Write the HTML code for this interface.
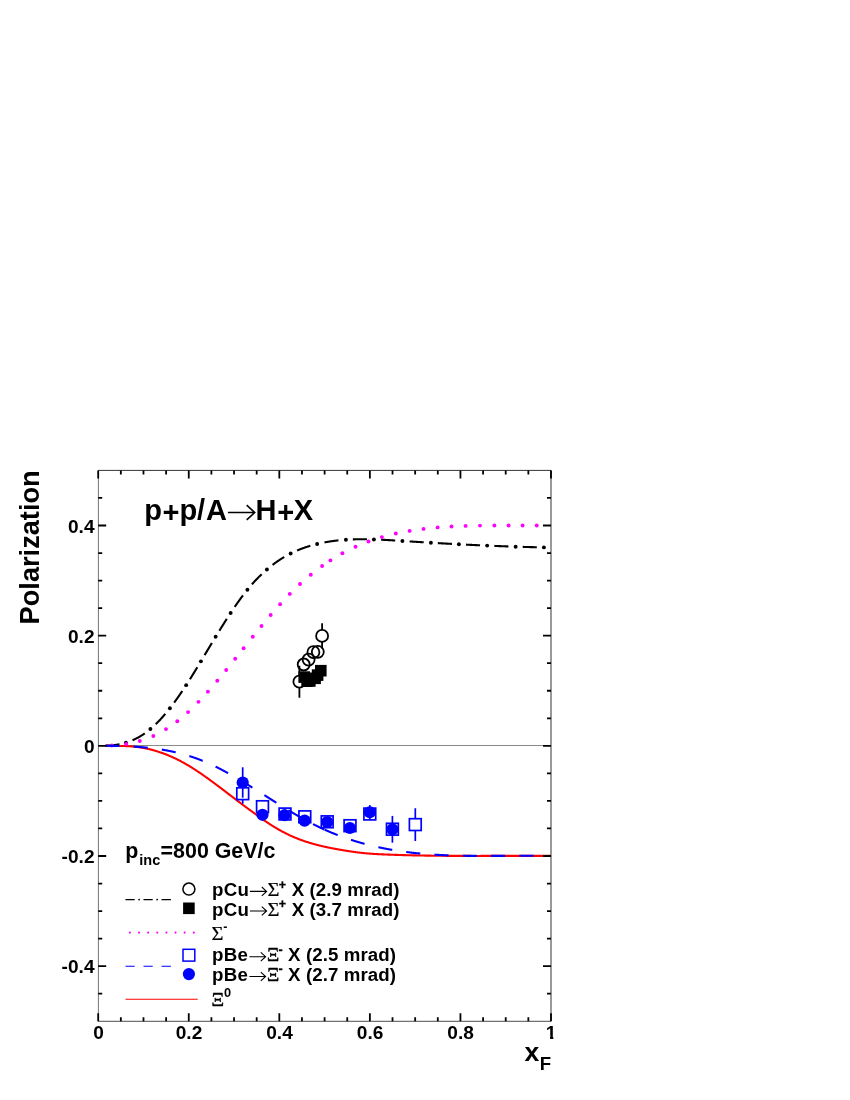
<!DOCTYPE html>
<html lang="en"><head><meta charset="utf-8"><title>Polarization</title>
<style>html,body{margin:0;padding:0;background:#fff}svg{display:block;will-change:transform}</style></head>
<body><svg width="850" height="1100" viewBox="0 0 850 1100">
<defs><clipPath id="c1"><path d="M545,1020H553.3V1045H550.1V1035.5H545Z"/></clipPath></defs>
<rect x="0" y="0" width="850" height="1100" fill="#fff"/>
<line x1="98.2" y1="745.5" x2="551.0" y2="745.5" stroke="#8a8a8a" stroke-width="1"/>
<g fill="none" stroke="#000" stroke-width="2.1">
<path d="M105.40,745.68 L105.65,745.68 L105.90,745.67 L106.15,745.67 L106.40,745.66 L106.65,745.66 L106.90,745.65 L107.15,745.64 L107.40,745.63 L107.65,745.62 L107.90,745.61 L108.15,745.60 L108.40,745.59 L108.65,745.58 L108.90,745.56 L109.15,745.55 L109.40,745.54 L109.65,745.52 L109.90,745.50 L110.15,745.49 L110.40,745.47 L110.65,745.45 L110.90,745.43 L111.15,745.41 L111.40,745.39 L111.65,745.37 L111.90,745.35 L112.15,745.32 L112.40,745.30 L112.65,745.27 L112.90,745.25 L113.15,745.22 L113.40,745.19 L113.65,745.17 L113.90,745.14 L114.15,745.11 L114.40,745.08 L114.65,745.04 L114.90,745.01 L115.15,744.98 L115.40,744.94 L115.65,744.91 L115.90,744.87 L116.15,744.84 L116.40,744.80 L116.65,744.76 L116.90,744.72 L117.15,744.68 L117.40,744.64 L117.65,744.59 L117.90,744.55 L118.15,744.51 L118.40,744.46 L118.65,744.42 L118.90,744.37 L119.15,744.32 L119.40,744.27 L119.41,744.27"/>
<path d="M132.52,740.21 L132.65,740.16 L132.90,740.05 L133.15,739.94 L133.40,739.83 L133.65,739.71 L133.90,739.60 L134.15,739.48 L134.40,739.37 L134.65,739.25 L134.90,739.13 L135.15,739.01 L135.40,738.89 L135.65,738.77 L135.90,738.64 L136.15,738.52 L136.40,738.39 L136.65,738.26 L136.90,738.13 L137.15,738.00 L137.40,737.87 L137.65,737.74 L137.90,737.60 L138.15,737.47 L138.40,737.33 L138.65,737.19 L138.90,737.05 L139.15,736.91 L139.40,736.77 L139.65,736.62 L139.90,736.48 L140.15,736.33 L140.40,736.18 L140.65,736.03 L140.90,735.88 L141.15,735.73 L141.40,735.57 L141.65,735.42 L141.90,735.26 L142.15,735.10 L142.40,734.94 L142.65,734.78 L142.90,734.62 L143.15,734.45 L143.40,734.29 L143.65,734.12 L143.90,733.95 L144.15,733.78 L144.40,733.61 L144.65,733.44 L144.80,733.33"/>
<path d="M155.77,724.17 L155.90,724.04 L156.15,723.80 L156.40,723.55 L156.65,723.30 L156.90,723.06 L157.15,722.80 L157.40,722.55 L157.65,722.30 L157.90,722.04 L158.15,721.79 L158.40,721.53 L158.65,721.27 L158.90,721.01 L159.15,720.75 L159.40,720.48 L159.65,720.22 L159.90,719.95 L160.15,719.68 L160.40,719.42 L160.65,719.14 L160.90,718.87 L161.15,718.60 L161.40,718.32 L161.65,718.05 L161.90,717.77 L162.15,717.49 L162.40,717.21 L162.65,716.93 L162.90,716.65 L163.15,716.36 L163.40,716.08 L163.65,715.79 L163.90,715.50 L164.15,715.21 L164.40,714.92 L164.65,714.63 L164.90,714.33 L165.15,714.04 L165.33,713.82"/>
<path d="M174.16,702.58 L174.40,702.26 L174.65,701.92 L174.90,701.57 L175.15,701.23 L175.40,700.89 L175.65,700.54 L175.90,700.20 L176.15,699.85 L176.40,699.50 L176.65,699.15 L176.90,698.80 L177.15,698.45 L177.40,698.10 L177.65,697.75 L177.90,697.39 L178.15,697.04 L178.40,696.68 L178.65,696.32 L178.90,695.96 L179.15,695.60 L179.40,695.24 L179.65,694.88 L179.90,694.52 L180.15,694.16 L180.40,693.79 L180.65,693.43 L180.90,693.06 L181.15,692.69 L181.40,692.33 L181.65,691.96 L181.90,691.59 L182.15,691.22 L182.27,691.04"/>
<path d="M189.90,679.29 L189.90,679.29 L190.15,678.89 L190.40,678.49 L190.65,678.09 L190.90,677.69 L191.15,677.29 L191.40,676.89 L191.65,676.49 L191.90,676.09 L192.15,675.69 L192.40,675.29 L192.65,674.88 L192.90,674.48 L193.15,674.07 L193.40,673.67 L193.65,673.26 L193.90,672.86 L194.15,672.45 L194.40,672.04 L194.65,671.64 L194.90,671.23 L195.15,670.82 L195.40,670.41 L195.65,670.00 L195.90,669.59 L196.15,669.18 L196.40,668.77 L196.65,668.36 L196.90,667.95 L197.15,667.54 L197.30,667.29"/>
<path d="M204.64,655.10 L204.65,655.08 L204.90,654.67 L205.15,654.25 L205.40,653.83 L205.65,653.41 L205.90,653.00 L206.15,652.58 L206.40,652.16 L206.65,651.74 L206.90,651.33 L207.15,650.91 L207.40,650.49 L207.65,650.07 L207.90,649.66 L208.15,649.24 L208.40,648.82 L208.65,648.41 L208.90,647.99 L209.15,647.57 L209.40,647.16 L209.65,646.74 L209.90,646.32 L210.15,645.91 L210.40,645.49 L210.65,645.07 L210.90,644.66 L211.15,644.24 L211.40,643.83 L211.65,643.41 L211.89,643.01"/>
<path d="M219.32,630.78 L219.40,630.66 L219.65,630.25 L219.90,629.84 L220.15,629.44 L220.40,629.04 L220.65,628.63 L220.90,628.23 L221.15,627.82 L221.40,627.42 L221.65,627.02 L221.90,626.62 L222.15,626.22 L222.40,625.82 L222.65,625.42 L222.90,625.02 L223.15,624.62 L223.40,624.22 L223.65,623.82 L223.90,623.42 L224.15,623.03 L224.40,622.63 L224.65,622.23 L224.90,621.84 L225.15,621.44 L225.40,621.05 L225.65,620.66 L225.90,620.26 L226.15,619.87 L226.40,619.48 L226.65,619.09 L226.81,618.84"/>
<path d="M234.70,606.89 L234.90,606.61 L235.15,606.25 L235.40,605.88 L235.65,605.52 L235.90,605.16 L236.15,604.80 L236.40,604.44 L236.65,604.08 L236.90,603.72 L237.15,603.37 L237.40,603.01 L237.65,602.66 L237.90,602.31 L238.15,601.95 L238.40,601.60 L238.65,601.25 L238.90,600.90 L239.15,600.55 L239.40,600.21 L239.65,599.86 L239.90,599.52 L240.15,599.17 L240.40,598.83 L240.65,598.49 L240.90,598.15 L241.15,597.81 L241.40,597.47 L241.65,597.13 L241.90,596.80 L242.15,596.46 L242.40,596.13 L242.65,595.80 L242.90,595.47 L242.92,595.44"/>
<path d="M251.93,584.34 L252.15,584.09 L252.40,583.81 L252.65,583.52 L252.90,583.24 L253.15,582.96 L253.40,582.69 L253.65,582.41 L253.90,582.13 L254.15,581.86 L254.40,581.59 L254.65,581.32 L254.90,581.04 L255.15,580.78 L255.40,580.51 L255.65,580.24 L255.90,579.98 L256.15,579.71 L256.40,579.45 L256.65,579.19 L256.90,578.92 L257.15,578.67 L257.40,578.41 L257.65,578.15 L257.90,577.89 L258.15,577.64 L258.40,577.39 L258.65,577.13 L258.90,576.88 L259.15,576.63 L259.40,576.38 L259.65,576.14 L259.90,575.89 L260.15,575.64 L260.40,575.40 L260.65,575.16 L260.90,574.91 L261.15,574.67 L261.40,574.43 L261.65,574.20 L261.69,574.16"/>
<path d="M272.56,564.86 L272.65,564.80 L272.90,564.61 L273.15,564.42 L273.40,564.23 L273.65,564.04 L273.90,563.86 L274.15,563.67 L274.40,563.49 L274.65,563.31 L274.90,563.12 L275.15,562.94 L275.40,562.76 L275.65,562.58 L275.90,562.41 L276.15,562.23 L276.40,562.05 L276.65,561.88 L276.90,561.70 L277.15,561.53 L277.40,561.36 L277.65,561.19 L277.90,561.02 L278.15,560.85 L278.40,560.68 L278.65,560.51 L278.90,560.35 L279.15,560.18 L279.40,560.02 L279.65,559.85 L279.90,559.69 L280.15,559.53 L280.40,559.37 L280.65,559.21 L280.90,559.05 L281.15,558.89 L281.40,558.73 L281.65,558.57 L281.90,558.42 L282.15,558.26 L282.40,558.11 L282.65,557.96 L282.90,557.80 L283.15,557.65 L283.40,557.50 L283.65,557.35 L283.90,557.21 L284.15,557.06 L284.25,557.00"/>
<path d="M297.06,550.54 L297.15,550.50 L297.40,550.39 L297.65,550.29 L297.90,550.18 L298.15,550.08 L298.40,549.98 L298.65,549.87 L298.90,549.77 L299.15,549.67 L299.40,549.57 L299.65,549.47 L299.90,549.37 L300.15,549.27 L300.40,549.18 L300.65,549.08 L300.90,548.98 L301.15,548.89 L301.40,548.79 L301.65,548.70 L301.90,548.60 L302.15,548.51 L302.40,548.42 L302.65,548.32 L302.90,548.23 L303.15,548.14 L303.40,548.05 L303.65,547.96 L303.90,547.87 L304.15,547.79 L304.40,547.70 L304.65,547.61 L304.90,547.53 L305.15,547.44 L305.40,547.35 L305.65,547.27 L305.90,547.19 L306.15,547.10 L306.40,547.02 L306.65,546.94 L306.90,546.86 L307.15,546.77 L307.40,546.69 L307.65,546.61 L307.90,546.54 L308.15,546.46 L308.40,546.38 L308.65,546.30 L308.90,546.22 L309.15,546.15 L309.40,546.07 L309.65,546.00 L309.90,545.92 L310.15,545.85 L310.33,545.80"/>
<path d="M324.48,542.41 L324.65,542.38 L324.90,542.33 L325.15,542.28 L325.40,542.24 L325.65,542.19 L325.90,542.15 L326.15,542.10 L326.40,542.06 L326.65,542.01 L326.90,541.97 L327.15,541.93 L327.40,541.88 L327.65,541.84 L327.90,541.80 L328.15,541.76 L328.40,541.72 L328.65,541.68 L328.90,541.64 L329.15,541.60 L329.40,541.56 L329.65,541.52 L329.90,541.48 L330.15,541.44 L330.40,541.40 L330.65,541.37 L330.90,541.33 L331.15,541.29 L331.40,541.25 L331.65,541.22 L331.90,541.18 L332.15,541.15 L332.40,541.11 L332.65,541.08 L332.90,541.04 L333.15,541.01 L333.40,540.98 L333.65,540.94 L333.90,540.91 L334.15,540.88 L334.40,540.85 L334.65,540.81 L334.90,540.78 L335.15,540.75 L335.40,540.72 L335.65,540.69 L335.90,540.66 L336.15,540.63 L336.40,540.60 L336.65,540.57 L336.90,540.55 L337.15,540.52 L337.40,540.49 L337.65,540.46 L337.90,540.44 L338.15,540.41 L338.40,540.38 L338.43,540.38"/>
<path d="M352.85,539.39 L352.90,539.39 L353.15,539.38 L353.40,539.37 L353.65,539.36 L353.90,539.35 L354.15,539.34 L354.40,539.34 L354.65,539.33 L354.90,539.32 L355.15,539.32 L355.40,539.31 L355.65,539.30 L355.90,539.30 L356.15,539.29 L356.40,539.29 L356.65,539.28 L356.90,539.28 L357.15,539.27 L357.40,539.27 L357.65,539.26 L357.90,539.26 L358.15,539.26 L358.40,539.25 L358.65,539.25 L358.90,539.25 L359.15,539.24 L359.40,539.24 L359.65,539.24 L359.90,539.24 L360.15,539.23 L360.40,539.23 L360.65,539.23 L360.90,539.23 L361.15,539.23 L361.40,539.23 L361.65,539.23 L361.90,539.23 L362.15,539.22 L362.40,539.22 L362.65,539.22 L362.90,539.23 L363.15,539.23 L363.40,539.23 L363.65,539.23 L363.90,539.23 L364.15,539.23 L364.40,539.23 L364.65,539.23 L364.90,539.24 L365.15,539.24 L365.40,539.24 L365.65,539.24 L365.90,539.25 L366.15,539.25 L366.40,539.25 L366.65,539.25 L366.90,539.26 L366.95,539.26"/>
<path d="M381.12,539.72 L381.15,539.72 L381.40,539.73 L381.65,539.74 L381.90,539.76 L382.15,539.77 L382.40,539.78 L382.65,539.79 L382.90,539.80 L383.15,539.82 L383.40,539.83 L383.65,539.84 L383.90,539.86 L384.15,539.87 L384.40,539.88 L384.65,539.89 L384.90,539.91 L385.15,539.92 L385.40,539.93 L385.65,539.95 L385.90,539.96 L386.15,539.98 L386.40,539.99 L386.65,540.00 L386.90,540.02 L387.15,540.03 L387.40,540.05 L387.65,540.06 L387.90,540.07 L388.15,540.09 L388.40,540.10 L388.65,540.12 L388.90,540.13 L389.15,540.15 L389.40,540.16 L389.65,540.17 L389.90,540.19 L390.15,540.20 L390.40,540.22 L390.65,540.23 L390.90,540.25 L391.15,540.26 L391.40,540.28 L391.65,540.29 L391.90,540.31 L392.15,540.32 L392.40,540.34 L392.65,540.36 L392.90,540.37 L393.15,540.39 L393.40,540.40 L393.65,540.42 L393.90,540.43 L394.15,540.45 L394.40,540.46 L394.65,540.48 L394.90,540.49 L395.15,540.51 L395.19,540.51"/>
<path d="M409.61,541.43 L409.65,541.43 L409.90,541.45 L410.15,541.46 L410.40,541.48 L410.65,541.49 L410.90,541.51 L411.15,541.53 L411.40,541.54 L411.65,541.56 L411.90,541.57 L412.15,541.59 L412.40,541.60 L412.65,541.62 L412.90,541.63 L413.15,541.65 L413.40,541.67 L413.65,541.68 L413.90,541.70 L414.15,541.71 L414.40,541.73 L414.65,541.74 L414.90,541.76 L415.15,541.77 L415.40,541.79 L415.65,541.81 L415.90,541.82 L416.15,541.84 L416.40,541.85 L416.65,541.87 L416.90,541.88 L417.15,541.90 L417.40,541.91 L417.65,541.93 L417.90,541.94 L418.15,541.96 L418.40,541.97 L418.65,541.99 L418.90,542.00 L419.15,542.02 L419.40,542.04 L419.65,542.05 L419.90,542.07 L420.15,542.08 L420.40,542.10 L420.65,542.11 L420.90,542.13 L421.15,542.14 L421.40,542.16 L421.65,542.17 L421.90,542.19 L422.15,542.20 L422.40,542.22 L422.65,542.23 L422.90,542.25 L423.15,542.26 L423.40,542.28 L423.65,542.29 L423.69,542.30"/>
<path d="M437.86,543.13 L437.90,543.13 L438.15,543.14 L438.40,543.16 L438.65,543.17 L438.90,543.19 L439.15,543.20 L439.40,543.22 L439.65,543.23 L439.90,543.24 L440.15,543.26 L440.40,543.27 L440.65,543.29 L440.90,543.30 L441.15,543.31 L441.40,543.33 L441.65,543.34 L441.90,543.36 L442.15,543.37 L442.40,543.38 L442.65,543.40 L442.90,543.41 L443.15,543.43 L443.40,543.44 L443.65,543.45 L443.90,543.47 L444.15,543.48 L444.40,543.50 L444.65,543.51 L444.90,543.52 L445.15,543.54 L445.40,543.55 L445.65,543.57 L445.90,543.58 L446.15,543.59 L446.40,543.61 L446.65,543.62 L446.90,543.63 L447.15,543.65 L447.40,543.66 L447.65,543.68 L447.90,543.69 L448.15,543.70 L448.40,543.72 L448.65,543.73 L448.90,543.74 L449.15,543.76 L449.40,543.77 L449.65,543.78 L449.90,543.80 L450.15,543.81 L450.40,543.82 L450.65,543.84 L450.90,543.85 L451.15,543.87 L451.40,543.88 L451.65,543.89 L451.90,543.91 L451.94,543.91"/>
<path d="M465.98,544.63 L466.15,544.64 L466.40,544.65 L466.65,544.67 L466.90,544.68 L467.15,544.69 L467.40,544.70 L467.65,544.72 L467.90,544.73 L468.15,544.74 L468.40,544.75 L468.65,544.76 L468.90,544.78 L469.15,544.79 L469.40,544.80 L469.65,544.81 L469.90,544.83 L470.15,544.84 L470.40,544.85 L470.65,544.86 L470.90,544.87 L471.15,544.89 L471.40,544.90 L471.65,544.91 L471.90,544.92 L472.15,544.93 L472.40,544.95 L472.65,544.96 L472.90,544.97 L473.15,544.98 L473.40,544.99 L473.65,545.00 L473.90,545.02 L474.15,545.03 L474.40,545.04 L474.65,545.05 L474.90,545.06 L475.15,545.08 L475.40,545.09 L475.65,545.10 L475.90,545.11 L476.15,545.12 L476.40,545.13 L476.65,545.14 L476.90,545.16 L477.15,545.17 L477.40,545.18 L477.65,545.19 L477.90,545.20 L478.15,545.21 L478.40,545.23 L478.65,545.24 L478.90,545.25 L479.15,545.26 L479.40,545.27 L479.65,545.28 L479.90,545.29 L480.07,545.30"/>
<path d="M494.35,545.91 L494.40,545.91 L494.65,545.92 L494.90,545.93 L495.15,545.94 L495.40,545.95 L495.65,545.96 L495.90,545.97 L496.15,545.98 L496.40,545.99 L496.65,546.00 L496.90,546.01 L497.15,546.02 L497.40,546.03 L497.65,546.04 L497.90,546.05 L498.15,546.06 L498.40,546.07 L498.65,546.08 L498.90,546.09 L499.15,546.10 L499.40,546.11 L499.65,546.12 L499.90,546.13 L500.15,546.14 L500.40,546.15 L500.65,546.16 L500.90,546.17 L501.15,546.18 L501.40,546.18 L501.65,546.19 L501.90,546.20 L502.15,546.21 L502.40,546.22 L502.65,546.23 L502.90,546.24 L503.15,546.25 L503.40,546.26 L503.65,546.27 L503.90,546.28 L504.15,546.29 L504.40,546.30 L504.65,546.30 L504.90,546.31 L505.15,546.32 L505.40,546.33 L505.65,546.34 L505.90,546.35 L506.15,546.36 L506.40,546.37 L506.65,546.38 L506.90,546.38 L507.15,546.39 L507.40,546.40 L507.65,546.41 L507.90,546.42 L508.15,546.43 L508.40,546.44 L508.44,546.44"/>
<path d="M522.73,546.89 L522.90,546.90 L523.15,546.90 L523.40,546.91 L523.65,546.92 L523.90,546.93 L524.15,546.93 L524.40,546.94 L524.65,546.95 L524.90,546.95 L525.15,546.96 L525.40,546.97 L525.65,546.97 L525.90,546.98 L526.15,546.99 L526.40,547.00 L526.65,547.00 L526.90,547.01 L527.15,547.02 L527.40,547.02 L527.65,547.03 L527.90,547.04 L528.15,547.04 L528.40,547.05 L528.65,547.05 L528.90,547.06 L529.15,547.07 L529.40,547.07 L529.65,547.08 L529.90,547.09 L530.15,547.09 L530.40,547.10 L530.65,547.11 L530.90,547.11 L531.15,547.12 L531.40,547.12 L531.65,547.13 L531.90,547.14 L532.15,547.14 L532.40,547.15 L532.65,547.16 L532.90,547.16 L533.15,547.17 L533.40,547.17 L533.65,547.18 L533.90,547.19 L534.15,547.19 L534.40,547.20 L534.65,547.20 L534.90,547.21 L535.15,547.21 L535.40,547.22 L535.65,547.23 L535.90,547.23 L536.15,547.24 L536.40,547.24 L536.65,547.25 L536.82,547.25"/>
</g>
<g fill="#000"><circle cx="125.90" cy="742.64" r="1.95"/><circle cx="150.40" cy="729.03" r="1.95"/><circle cx="169.90" cy="708.19" r="1.95"/><circle cx="186.15" cy="685.16" r="1.95"/><circle cx="200.90" cy="661.33" r="1.95"/><circle cx="215.65" cy="636.79" r="1.95"/><circle cx="230.65" cy="612.93" r="1.95"/><circle cx="247.40" cy="589.71" r="1.95"/><circle cx="266.90" cy="569.45" r="1.95"/><circle cx="290.65" cy="553.51" r="1.95"/><circle cx="317.15" cy="543.98" r="1.95"/><circle cx="345.90" cy="539.74" r="1.95"/><circle cx="373.90" cy="539.43" r="1.95"/><circle cx="402.40" cy="540.97" r="1.95"/><circle cx="430.90" cy="542.72" r="1.95"/><circle cx="458.90" cy="544.27" r="1.95"/><circle cx="487.15" cy="545.61" r="1.95"/><circle cx="515.65" cy="546.68" r="1.95"/><circle cx="543.90" cy="547.40" r="1.95"/></g>
<path d="M105.40,745.90 L105.65,745.90 L105.90,745.91 L106.15,745.91 L106.40,745.91 L106.65,745.91 L106.90,745.92 L107.15,745.92 L107.40,745.92 L107.65,745.92 L107.90,745.93 L108.15,745.93 L108.40,745.93 L108.65,745.93 L108.90,745.93 L109.15,745.93 L109.40,745.93 L109.65,745.94 L109.90,745.94 L110.15,745.94 L110.40,745.94 L110.65,745.94 L110.90,745.94 L111.15,745.94 L111.40,745.94 L111.65,745.94 L111.90,745.94 L112.15,745.94 L112.40,745.94 L112.65,745.94 L112.90,745.94 L113.15,745.94 L113.40,745.94 L113.65,745.94 L113.90,745.94 L114.15,745.94 L114.40,745.94 L114.65,745.94 L114.90,745.94 L115.15,745.94 L115.40,745.94 L115.65,745.94 L115.90,745.94 L116.15,745.94 L116.40,745.94 L116.65,745.94 L116.90,745.94 L117.15,745.94 L117.40,745.94 L117.65,745.94 L117.90,745.95 L118.15,745.95 L118.40,745.95 L118.65,745.95 L118.90,745.95 L119.15,745.95 L119.40,745.95 L119.65,745.96 L119.90,745.96 L120.15,745.96 L120.40,745.96 L120.65,745.97 L120.90,745.97 L121.15,745.97 L121.40,745.98 L121.65,745.98 L121.90,745.98 L122.15,745.99 L122.40,745.99 L122.65,746.00 L122.90,746.00 L123.15,746.01 L123.40,746.01 L123.65,746.02 L123.90,746.03 L124.15,746.03 L124.40,746.04 L124.65,746.05 L124.90,746.05 L125.15,746.06 L125.40,746.07 L125.65,746.08 L125.90,746.09 L126.15,746.10 L126.40,746.10 L126.65,746.11 L126.90,746.12 L127.15,746.14 L127.40,746.15 L127.65,746.16 L127.90,746.17 L128.15,746.18 L128.40,746.20 L128.65,746.21 L128.90,746.22 L129.15,746.24 L129.40,746.25 L129.65,746.27 L129.90,746.28 L130.15,746.30 L130.40,746.31 L130.65,746.33 L130.90,746.35 L131.15,746.37 L131.40,746.39 L131.65,746.40 L131.90,746.42 L132.15,746.44 L132.40,746.46 L132.65,746.49 L132.90,746.51 L133.15,746.53 L133.40,746.55 L133.65,746.58 L133.90,746.60 L134.15,746.63 L134.40,746.65 L134.65,746.68 L134.90,746.70 L135.15,746.73 L135.40,746.76 L135.65,746.79 L135.90,746.81 L136.15,746.84 L136.40,746.87 L136.65,746.90 L136.90,746.93 L137.15,746.97 L137.40,747.00 L137.65,747.03 L137.90,747.06 L138.15,747.10 L138.40,747.13 L138.65,747.17 L138.90,747.20 L139.15,747.24 L139.40,747.27 L139.65,747.31 L139.90,747.35 L140.15,747.39 L140.40,747.43 L140.65,747.47 L140.90,747.51 L141.15,747.55 L141.40,747.59 L141.65,747.63 L141.90,747.67 L142.15,747.71 L142.40,747.76 L142.65,747.80 L142.90,747.85 L143.15,747.89 L143.40,747.94 L143.65,747.98 L143.90,748.03 L144.15,748.08 L144.40,748.12 L144.65,748.17 L144.90,748.22 L145.15,748.27 L145.40,748.32 L145.65,748.37 L145.90,748.42 L146.15,748.48 L146.40,748.53 L146.65,748.58 L146.90,748.64 L147.15,748.69 L147.40,748.74 L147.65,748.80 L147.90,748.86 L148.15,748.91 L148.40,748.97 L148.65,749.03 L148.90,749.09 L149.15,749.14 L149.40,749.20 L149.65,749.26 L149.90,749.32 L150.15,749.38 L150.40,749.45 L150.65,749.51 L150.90,749.57 L151.15,749.63 L151.40,749.70 L151.65,749.76 L151.90,749.83 L152.15,749.89 L152.40,749.96 L152.65,750.03 L152.90,750.09 L153.15,750.16 L153.40,750.23 L153.65,750.30 L153.90,750.37 L154.15,750.44 L154.40,750.51 L154.65,750.58 L154.90,750.65 L155.15,750.73 L155.40,750.80 L155.65,750.87 L155.90,750.95 L156.15,751.02 L156.40,751.10 L156.65,751.17 L156.90,751.25 L157.15,751.33 L157.40,751.40 L157.65,751.48 L157.90,751.56 L158.15,751.64 L158.40,751.72 L158.65,751.80 L158.90,751.88 L159.15,751.96 L159.40,752.05 L159.65,752.13 L159.90,752.21 L160.15,752.30 L160.40,752.38 L160.65,752.47 L160.90,752.55 L161.15,752.64 L161.40,752.73 L161.65,752.81 L161.90,752.90 L162.15,752.99 L162.40,753.08 L162.65,753.17 L162.90,753.26 L163.15,753.35 L163.40,753.44 L163.65,753.53 L163.90,753.63 L164.15,753.72 L164.40,753.81 L164.65,753.91 L164.90,754.00 L165.15,754.10 L165.40,754.19 L165.65,754.29 L165.90,754.39 L166.15,754.49 L166.40,754.58 L166.65,754.68 L166.90,754.78 L167.15,754.88 L167.40,754.98 L167.65,755.09 L167.90,755.19 L168.15,755.29 L168.40,755.39 L168.65,755.50 L168.90,755.60 L169.15,755.71 L169.40,755.81 L169.65,755.92 L169.90,756.02 L170.15,756.13 L170.40,756.24 L170.65,756.35 L170.90,756.46 L171.15,756.56 L171.40,756.67 L171.65,756.79 L171.90,756.90 L172.15,757.01 L172.40,757.12 L172.65,757.23 L172.90,757.35 L173.15,757.46 L173.40,757.58 L173.65,757.69 L173.90,757.81 L174.15,757.92 L174.40,758.04 L174.65,758.16 L174.90,758.28 L175.15,758.39 L175.40,758.51 L175.65,758.63 L175.90,758.75 L176.15,758.88 L176.40,759.00 L176.65,759.12 L176.90,759.24 L177.15,759.37 L177.40,759.49 L177.65,759.61 L177.90,759.74 L178.15,759.86 L178.40,759.99 L178.65,760.12 L178.90,760.25 L179.15,760.37 L179.40,760.50 L179.65,760.63 L179.90,760.76 L180.15,760.89 L180.40,761.02 L180.65,761.15 L180.90,761.29 L181.15,761.42 L181.40,761.55 L181.65,761.69 L181.90,761.82 L182.15,761.96 L182.40,762.09 L182.65,762.23 L182.90,762.36 L183.15,762.50 L183.40,762.64 L183.65,762.78 L183.90,762.92 L184.15,763.06 L184.40,763.20 L184.65,763.34 L184.90,763.48 L185.15,763.62 L185.40,763.76 L185.65,763.91 L185.90,764.05 L186.15,764.20 L186.40,764.34 L186.65,764.49 L186.90,764.63 L187.15,764.78 L187.40,764.92 L187.65,765.07 L187.90,765.22 L188.15,765.37 L188.40,765.52 L188.65,765.67 L188.90,765.82 L189.15,765.97 L189.40,766.12 L189.65,766.27 L189.90,766.42 L190.15,766.58 L190.40,766.73 L190.65,766.88 L190.90,767.04 L191.15,767.19 L191.40,767.35 L191.65,767.50 L191.90,767.66 L192.15,767.81 L192.40,767.97 L192.65,768.13 L192.90,768.29 L193.15,768.45 L193.40,768.60 L193.65,768.76 L193.90,768.92 L194.15,769.08 L194.40,769.24 L194.65,769.41 L194.90,769.57 L195.15,769.73 L195.40,769.89 L195.65,770.05 L195.90,770.22 L196.15,770.38 L196.40,770.55 L196.65,770.71 L196.90,770.88 L197.15,771.04 L197.40,771.21 L197.65,771.37 L197.90,771.54 L198.15,771.71 L198.40,771.87 L198.65,772.04 L198.90,772.21 L199.15,772.38 L199.40,772.55 L199.65,772.72 L199.90,772.89 L200.15,773.06 L200.40,773.23 L200.65,773.40 L200.90,773.57 L201.15,773.74 L201.40,773.91 L201.65,774.08 L201.90,774.26 L202.15,774.43 L202.40,774.60 L202.65,774.78 L202.90,774.95 L203.15,775.13 L203.40,775.30 L203.65,775.47 L203.90,775.65 L204.15,775.83 L204.40,776.00 L204.65,776.18 L204.90,776.35 L205.15,776.53 L205.40,776.71 L205.65,776.89 L205.90,777.06 L206.15,777.24 L206.40,777.42 L206.65,777.60 L206.90,777.78 L207.15,777.96 L207.40,778.14 L207.65,778.32 L207.90,778.50 L208.15,778.68 L208.40,778.86 L208.65,779.04 L208.90,779.22 L209.15,779.40 L209.40,779.58 L209.65,779.76 L209.90,779.94 L210.15,780.13 L210.40,780.31 L210.65,780.49 L210.90,780.68 L211.15,780.86 L211.40,781.04 L211.65,781.23 L211.90,781.41 L212.15,781.59 L212.40,781.78 L212.65,781.96 L212.90,782.15 L213.15,782.33 L213.40,782.52 L213.65,782.70 L213.90,782.89 L214.15,783.07 L214.40,783.26 L214.65,783.45 L214.90,783.63 L215.15,783.82 L215.40,784.01 L215.65,784.19 L215.90,784.38 L216.15,784.57 L216.40,784.75 L216.65,784.94 L216.90,785.13 L217.15,785.32 L217.40,785.50 L217.65,785.69 L217.90,785.88 L218.15,786.07 L218.40,786.26 L218.65,786.45 L218.90,786.63 L219.15,786.82 L219.40,787.01 L219.65,787.20 L219.90,787.39 L220.15,787.58 L220.40,787.77 L220.65,787.96 L220.90,788.15 L221.15,788.34 L221.40,788.53 L221.65,788.72 L221.90,788.91 L222.15,789.10 L222.40,789.29 L222.65,789.48 L222.90,789.67 L223.15,789.86 L223.40,790.05 L223.65,790.24 L223.90,790.43 L224.15,790.62 L224.40,790.81 L224.65,791.00 L224.90,791.19 L225.15,791.38 L225.40,791.58 L225.65,791.77 L225.90,791.96 L226.15,792.15 L226.40,792.34 L226.65,792.53 L226.90,792.72 L227.15,792.91 L227.40,793.10 L227.65,793.30 L227.90,793.49 L228.15,793.68 L228.40,793.87 L228.65,794.06 L228.90,794.25 L229.15,794.44 L229.40,794.63 L229.65,794.82 L229.90,795.02 L230.15,795.21 L230.40,795.40 L230.65,795.59 L230.90,795.78 L231.15,795.97 L231.40,796.16 L231.65,796.35 L231.90,796.54 L232.15,796.73 L232.40,796.93 L232.65,797.12 L232.90,797.31 L233.15,797.50 L233.40,797.69 L233.65,797.88 L233.90,798.07 L234.15,798.26 L234.40,798.45 L234.65,798.64 L234.90,798.83 L235.15,799.02 L235.40,799.21 L235.65,799.40 L235.90,799.59 L236.15,799.78 L236.40,799.97 L236.65,800.16 L236.90,800.35 L237.15,800.54 L237.40,800.73 L237.65,800.92 L237.90,801.11 L238.15,801.29 L238.40,801.48 L238.65,801.67 L238.90,801.86 L239.15,802.05 L239.40,802.24 L239.65,802.43 L239.90,802.61 L240.15,802.80 L240.40,802.99 L240.65,803.18 L240.90,803.36 L241.15,803.55 L241.40,803.74 L241.65,803.92 L241.90,804.11 L242.15,804.30 L242.40,804.48 L242.65,804.67 L242.90,804.86 L243.15,805.04 L243.40,805.23 L243.65,805.41 L243.90,805.60 L244.15,805.78 L244.40,805.97 L244.65,806.15 L244.90,806.34 L245.15,806.52 L245.40,806.71 L245.65,806.89 L245.90,807.08 L246.15,807.26 L246.40,807.44 L246.65,807.63 L246.90,807.81 L247.15,807.99 L247.40,808.18 L247.65,808.36 L247.90,808.55 L248.15,808.73 L248.40,808.91 L248.65,809.10 L248.90,809.28 L249.15,809.46 L249.40,809.65 L249.65,809.83 L249.90,810.01 L250.15,810.19 L250.40,810.38 L250.65,810.56 L250.90,810.74 L251.15,810.93 L251.40,811.11 L251.65,811.29 L251.90,811.48 L252.15,811.66 L252.40,811.84 L252.65,812.02 L252.90,812.21 L253.15,812.39 L253.40,812.57 L253.65,812.76 L253.90,812.94 L254.15,813.12 L254.40,813.31 L254.65,813.49 L254.90,813.67 L255.15,813.86 L255.40,814.04 L255.65,814.22 L255.90,814.41 L256.15,814.59 L256.40,814.77 L256.65,814.96 L256.90,815.14 L257.15,815.32 L257.40,815.50 L257.65,815.69 L257.90,815.87 L258.15,816.05 L258.40,816.23 L258.65,816.41 L258.90,816.60 L259.15,816.78 L259.40,816.96 L259.65,817.14 L259.90,817.32 L260.15,817.50 L260.40,817.68 L260.65,817.86 L260.90,818.04 L261.15,818.22 L261.40,818.39 L261.65,818.57 L261.90,818.75 L262.15,818.93 L262.40,819.10 L262.65,819.28 L262.90,819.45 L263.15,819.63 L263.40,819.80 L263.65,819.98 L263.90,820.15 L264.15,820.33 L264.40,820.50 L264.65,820.67 L264.90,820.84 L265.15,821.01 L265.40,821.19 L265.65,821.36 L265.90,821.53 L266.15,821.70 L266.40,821.87 L266.65,822.03 L266.90,822.20 L267.15,822.37 L267.40,822.54 L267.65,822.70 L267.90,822.87 L268.15,823.04 L268.40,823.20 L268.65,823.37 L268.90,823.53 L269.15,823.69 L269.40,823.86 L269.65,824.02 L269.90,824.18 L270.15,824.34 L270.40,824.51 L270.65,824.67 L270.90,824.83 L271.15,824.99 L271.40,825.15 L271.65,825.30 L271.90,825.46 L272.15,825.62 L272.40,825.78 L272.65,825.93 L272.90,826.09 L273.15,826.25 L273.40,826.40 L273.65,826.56 L273.90,826.71 L274.15,826.86 L274.40,827.02 L274.65,827.17 L274.90,827.32 L275.15,827.47 L275.40,827.62 L275.65,827.77 L275.90,827.92 L276.15,828.07 L276.40,828.22 L276.65,828.37 L276.90,828.51 L277.15,828.66 L277.40,828.81 L277.65,828.95 L277.90,829.10 L278.15,829.24 L278.40,829.39 L278.65,829.53 L278.90,829.67 L279.15,829.82 L279.40,829.96 L279.65,830.10 L279.90,830.24 L280.15,830.38 L280.40,830.52 L280.65,830.66 L280.90,830.79 L281.15,830.93 L281.40,831.07 L281.65,831.21 L281.90,831.34 L282.15,831.48 L282.40,831.61 L282.65,831.74 L282.90,831.88 L283.15,832.01 L283.40,832.14 L283.65,832.27 L283.90,832.40 L284.15,832.53 L284.40,832.66 L284.65,832.79 L284.90,832.92 L285.15,833.05 L285.40,833.18 L285.65,833.30 L285.90,833.43 L286.15,833.55 L286.40,833.68 L286.65,833.80 L286.90,833.92 L287.15,834.05 L287.40,834.17 L287.65,834.29 L287.90,834.41 L288.15,834.53 L288.40,834.65 L288.65,834.77 L288.90,834.89 L289.15,835.00 L289.40,835.12 L289.65,835.24 L289.90,835.35 L290.15,835.47 L290.40,835.58 L290.65,835.70 L290.90,835.81 L291.15,835.92 L291.40,836.04 L291.65,836.15 L291.90,836.26 L292.15,836.37 L292.40,836.48 L292.65,836.59 L292.90,836.70 L293.15,836.81 L293.40,836.91 L293.65,837.02 L293.90,837.13 L294.15,837.23 L294.40,837.34 L294.65,837.44 L294.90,837.55 L295.15,837.65 L295.40,837.76 L295.65,837.86 L295.90,837.96 L296.15,838.06 L296.40,838.16 L296.65,838.26 L296.90,838.36 L297.15,838.46 L297.40,838.56 L297.65,838.66 L297.90,838.76 L298.15,838.86 L298.40,838.95 L298.65,839.05 L298.90,839.15 L299.15,839.24 L299.40,839.34 L299.65,839.43 L299.90,839.53 L300.15,839.62 L300.40,839.71 L300.65,839.80 L300.90,839.90 L301.15,839.99 L301.40,840.08 L301.65,840.17 L301.90,840.26 L302.15,840.35 L302.40,840.44 L302.65,840.53 L302.90,840.61 L303.15,840.70 L303.40,840.79 L303.65,840.87 L303.90,840.96 L304.15,841.05 L304.40,841.13 L304.65,841.22 L304.90,841.30 L305.15,841.38 L305.40,841.47 L305.65,841.55 L305.90,841.63 L306.15,841.72 L306.40,841.80 L306.65,841.88 L306.90,841.96 L307.15,842.04 L307.40,842.12 L307.65,842.20 L307.90,842.28 L308.15,842.36 L308.40,842.43 L308.65,842.51 L308.90,842.59 L309.15,842.67 L309.40,842.74 L309.65,842.82 L309.90,842.89 L310.15,842.97 L310.40,843.05 L310.65,843.12 L310.90,843.19 L311.15,843.27 L311.40,843.34 L311.65,843.41 L311.90,843.49 L312.15,843.56 L312.40,843.63 L312.65,843.70 L312.90,843.77 L313.15,843.84 L313.40,843.91 L313.65,843.98 L313.90,844.05 L314.15,844.12 L314.40,844.19 L314.65,844.26 L314.90,844.33 L315.15,844.39 L315.40,844.46 L315.65,844.53 L315.90,844.59 L316.15,844.66 L316.40,844.73 L316.65,844.79 L316.90,844.86 L317.15,844.92 L317.40,844.99 L317.65,845.05 L317.90,845.11 L318.15,845.18 L318.40,845.24 L318.65,845.30 L318.90,845.37 L319.15,845.43 L319.40,845.49 L319.65,845.55 L319.90,845.61 L320.15,845.67 L320.40,845.73 L320.65,845.79 L320.90,845.85 L321.15,845.91 L321.40,845.97 L321.65,846.03 L321.90,846.09 L322.15,846.15 L322.40,846.21 L322.65,846.27 L322.90,846.32 L323.15,846.38 L323.40,846.44 L323.65,846.49 L323.90,846.55 L324.15,846.61 L324.40,846.66 L324.65,846.72 L324.90,846.77 L325.15,846.83 L325.40,846.88 L325.65,846.94 L325.90,846.99 L326.15,847.05 L326.40,847.10 L326.65,847.15 L326.90,847.21 L327.15,847.26 L327.40,847.31 L327.65,847.36 L327.90,847.42 L328.15,847.47 L328.40,847.52 L328.65,847.57 L328.90,847.62 L329.15,847.67 L329.40,847.73 L329.65,847.78 L329.90,847.83 L330.15,847.88 L330.40,847.93 L330.65,847.98 L330.90,848.03 L331.15,848.08 L331.40,848.12 L331.65,848.17 L331.90,848.22 L332.15,848.27 L332.40,848.32 L332.65,848.37 L332.90,848.41 L333.15,848.46 L333.40,848.51 L333.65,848.56 L333.90,848.60 L334.15,848.65 L334.40,848.70 L334.65,848.75 L334.90,848.79 L335.15,848.84 L335.40,848.88 L335.65,848.93 L335.90,848.98 L336.15,849.02 L336.40,849.07 L336.65,849.11 L336.90,849.16 L337.15,849.20 L337.40,849.25 L337.65,849.29 L337.90,849.34 L338.15,849.38 L338.40,849.42 L338.65,849.47 L338.90,849.51 L339.15,849.56 L339.40,849.60 L339.65,849.64 L339.90,849.69 L340.15,849.73 L340.40,849.77 L340.65,849.82 L340.90,849.86 L341.15,849.90 L341.40,849.94 L341.65,849.99 L341.90,850.03 L342.15,850.07 L342.40,850.11 L342.65,850.16 L342.90,850.20 L343.15,850.24 L343.40,850.28 L343.65,850.32 L343.90,850.36 L344.15,850.41 L344.40,850.45 L344.65,850.49 L344.90,850.53 L345.15,850.57 L345.40,850.61 L345.65,850.65 L345.90,850.69 L346.15,850.73 L346.40,850.77 L346.65,850.81 L346.90,850.85 L347.15,850.89 L347.40,850.93 L347.65,850.97 L347.90,851.01 L348.15,851.05 L348.40,851.09 L348.65,851.13 L348.90,851.17 L349.15,851.20 L349.40,851.24 L349.65,851.28 L349.90,851.32 L350.15,851.36 L350.40,851.39 L350.65,851.43 L350.90,851.47 L351.15,851.51 L351.40,851.54 L351.65,851.58 L351.90,851.62 L352.15,851.65 L352.40,851.69 L352.65,851.72 L352.90,851.76 L353.15,851.80 L353.40,851.83 L353.65,851.87 L353.90,851.90 L354.15,851.94 L354.40,851.97 L354.65,852.00 L354.90,852.04 L355.15,852.07 L355.40,852.11 L355.65,852.14 L355.90,852.17 L356.15,852.21 L356.40,852.24 L356.65,852.27 L356.90,852.30 L357.15,852.34 L357.40,852.37 L357.65,852.40 L357.90,852.43 L358.15,852.46 L358.40,852.49 L358.65,852.52 L358.90,852.55 L359.15,852.58 L359.40,852.61 L359.65,852.64 L359.90,852.67 L360.15,852.70 L360.40,852.73 L360.65,852.76 L360.90,852.79 L361.15,852.82 L361.40,852.84 L361.65,852.87 L361.90,852.90 L362.15,852.93 L362.40,852.95 L362.65,852.98 L362.90,853.01 L363.15,853.03 L363.40,853.06 L363.65,853.08 L363.90,853.11 L364.15,853.13 L364.40,853.16 L364.65,853.18 L364.90,853.21 L365.15,853.23 L365.40,853.25 L365.65,853.28 L365.90,853.30 L366.15,853.32 L366.40,853.34 L366.65,853.37 L366.90,853.39 L367.15,853.41 L367.40,853.43 L367.65,853.45 L367.90,853.47 L368.15,853.49 L368.40,853.51 L368.65,853.53 L368.90,853.55 L369.15,853.57 L369.40,853.59 L369.65,853.61 L369.90,853.63 L370.15,853.65 L370.40,853.67 L370.65,853.69 L370.90,853.71 L371.15,853.72 L371.40,853.74 L371.65,853.76 L371.90,853.78 L372.15,853.79 L372.40,853.81 L372.65,853.83 L372.90,853.85 L373.15,853.86 L373.40,853.88 L373.65,853.89 L373.90,853.91 L374.15,853.93 L374.40,853.94 L374.65,853.96 L374.90,853.97 L375.15,853.99 L375.40,854.00 L375.65,854.02 L375.90,854.03 L376.15,854.04 L376.40,854.06 L376.65,854.07 L376.90,854.09 L377.15,854.10 L377.40,854.11 L377.65,854.13 L377.90,854.14 L378.15,854.15 L378.40,854.17 L378.65,854.18 L378.90,854.19 L379.15,854.21 L379.40,854.22 L379.65,854.23 L379.90,854.24 L380.15,854.25 L380.40,854.27 L380.65,854.28 L380.90,854.29 L381.15,854.30 L381.40,854.31 L381.65,854.33 L381.90,854.34 L382.15,854.35 L382.40,854.36 L382.65,854.37 L382.90,854.38 L383.15,854.39 L383.40,854.40 L383.65,854.41 L383.90,854.42 L384.15,854.43 L384.40,854.45 L384.65,854.46 L384.90,854.47 L385.15,854.48 L385.40,854.49 L385.65,854.50 L385.90,854.51 L386.15,854.52 L386.40,854.53 L386.65,854.54 L386.90,854.55 L387.15,854.56 L387.40,854.57 L387.65,854.58 L387.90,854.59 L388.15,854.60 L388.40,854.61 L388.65,854.62 L388.90,854.62 L389.15,854.63 L389.40,854.64 L389.65,854.65 L389.90,854.66 L390.15,854.67 L390.40,854.68 L390.65,854.69 L390.90,854.70 L391.15,854.71 L391.40,854.72 L391.65,854.73 L391.90,854.74 L392.15,854.74 L392.40,854.75 L392.65,854.76 L392.90,854.77 L393.15,854.78 L393.40,854.79 L393.65,854.80 L393.90,854.81 L394.15,854.81 L394.40,854.82 L394.65,854.83 L394.90,854.84 L395.15,854.85 L395.40,854.86 L395.65,854.87 L395.90,854.87 L396.15,854.88 L396.40,854.89 L396.65,854.90 L396.90,854.91 L397.15,854.92 L397.40,854.92 L397.65,854.93 L397.90,854.94 L398.15,854.95 L398.40,854.95 L398.65,854.96 L398.90,854.97 L399.15,854.98 L399.40,854.99 L399.65,854.99 L399.90,855.00 L400.15,855.01 L400.40,855.02 L400.65,855.02 L400.90,855.03 L401.15,855.04 L401.40,855.05 L401.65,855.05 L401.90,855.06 L402.15,855.07 L402.40,855.08 L402.65,855.08 L402.90,855.09 L403.15,855.10 L403.40,855.10 L403.65,855.11 L403.90,855.12 L404.15,855.13 L404.40,855.13 L404.65,855.14 L404.90,855.15 L405.15,855.15 L405.40,855.16 L405.65,855.17 L405.90,855.17 L406.15,855.18 L406.40,855.19 L406.65,855.19 L406.90,855.20 L407.15,855.21 L407.40,855.21 L407.65,855.22 L407.90,855.23 L408.15,855.23 L408.40,855.24 L408.65,855.25 L408.90,855.25 L409.15,855.26 L409.40,855.26 L409.65,855.27 L409.90,855.28 L410.15,855.28 L410.40,855.29 L410.65,855.29 L410.90,855.30 L411.15,855.31 L411.40,855.31 L411.65,855.32 L411.90,855.32 L412.15,855.33 L412.40,855.34 L412.65,855.34 L412.90,855.35 L413.15,855.35 L413.40,855.36 L413.65,855.36 L413.90,855.37 L414.15,855.37 L414.40,855.38 L414.65,855.39 L414.90,855.39 L415.15,855.40 L415.40,855.40 L415.65,855.41 L415.90,855.41 L416.15,855.42 L416.40,855.42 L416.65,855.43 L416.90,855.43 L417.15,855.44 L417.40,855.44 L417.65,855.45 L417.90,855.45 L418.15,855.46 L418.40,855.46 L418.65,855.47 L418.90,855.47 L419.15,855.48 L419.40,855.48 L419.65,855.49 L419.90,855.49 L420.15,855.50 L420.40,855.50 L420.65,855.51 L420.90,855.51 L421.15,855.52 L421.40,855.52 L421.65,855.52 L421.90,855.53 L422.15,855.53 L422.40,855.54 L422.65,855.54 L422.90,855.55 L423.15,855.55 L423.40,855.56 L423.65,855.56 L423.90,855.56 L424.15,855.57 L424.40,855.57 L424.65,855.58 L424.90,855.58 L425.15,855.58 L425.40,855.59 L425.65,855.59 L425.90,855.60 L426.15,855.60 L426.40,855.60 L426.65,855.61 L426.90,855.61 L427.15,855.62 L427.40,855.62 L427.65,855.62 L427.90,855.63 L428.15,855.63 L428.40,855.64 L428.65,855.64 L428.90,855.64 L429.15,855.65 L429.40,855.65 L429.65,855.65 L429.90,855.66 L430.15,855.66 L430.40,855.66 L430.65,855.67 L430.90,855.67 L431.15,855.67 L431.40,855.68 L431.65,855.68 L431.90,855.68 L432.15,855.69 L432.40,855.69 L432.65,855.69 L432.90,855.70 L433.15,855.70 L433.40,855.70 L433.65,855.71 L433.90,855.71 L434.15,855.71 L434.40,855.72 L434.65,855.72 L434.90,855.72 L435.15,855.72 L435.40,855.73 L435.65,855.73 L435.90,855.73 L436.15,855.74 L436.40,855.74 L436.65,855.74 L436.90,855.74 L437.15,855.75 L437.40,855.75 L437.65,855.75 L437.90,855.76 L438.15,855.76 L438.40,855.76 L438.65,855.76 L438.90,855.77 L439.15,855.77 L439.40,855.77 L439.65,855.77 L439.90,855.78 L440.15,855.78 L440.40,855.78 L440.65,855.78 L440.90,855.79 L441.15,855.79 L441.40,855.79 L441.65,855.79 L441.90,855.79 L442.15,855.80 L442.40,855.80 L442.65,855.80 L442.90,855.80 L443.15,855.81 L443.40,855.81 L443.65,855.81 L443.90,855.81 L444.15,855.81 L444.40,855.82 L444.65,855.82 L444.90,855.82 L445.15,855.82 L445.40,855.82 L445.65,855.83 L445.90,855.83 L446.15,855.83 L446.40,855.83 L446.65,855.83 L446.90,855.84 L447.15,855.84 L447.40,855.84 L447.65,855.84 L447.90,855.84 L448.15,855.84 L448.40,855.85 L448.65,855.85 L448.90,855.85 L449.15,855.85 L449.40,855.85 L449.65,855.85 L449.90,855.86 L450.15,855.86 L450.40,855.86 L450.65,855.86 L450.90,855.86 L451.15,855.86 L451.40,855.86 L451.65,855.87 L451.90,855.87 L452.15,855.87 L452.40,855.87 L452.65,855.87 L452.90,855.87 L453.15,855.87 L453.40,855.88 L453.65,855.88 L453.90,855.88 L454.15,855.88 L454.40,855.88 L454.65,855.88 L454.90,855.88 L455.15,855.88 L455.40,855.89 L455.65,855.89 L455.90,855.89 L456.15,855.89 L456.40,855.89 L456.65,855.89 L456.90,855.89 L457.15,855.89 L457.40,855.89 L457.65,855.89 L457.90,855.90 L458.15,855.90 L458.40,855.90 L458.65,855.90 L458.90,855.90 L459.15,855.90 L459.40,855.90 L459.65,855.90 L459.90,855.90 L460.15,855.90 L460.40,855.90 L460.65,855.91 L460.90,855.91 L461.15,855.91 L461.40,855.91 L461.65,855.91 L461.90,855.91 L462.15,855.91 L462.40,855.91 L462.65,855.91 L462.90,855.91 L463.15,855.91 L463.40,855.91 L463.65,855.91 L463.90,855.91 L464.15,855.91 L464.40,855.92 L464.65,855.92 L464.90,855.92 L465.15,855.92 L465.40,855.92 L465.65,855.92 L465.90,855.92 L466.15,855.92 L466.40,855.92 L466.65,855.92 L466.90,855.92 L467.15,855.92 L467.40,855.92 L467.65,855.92 L467.90,855.92 L468.15,855.92 L468.40,855.92 L468.65,855.92 L468.90,855.92 L469.15,855.92 L469.40,855.92 L469.65,855.92 L469.90,855.92 L470.15,855.92 L470.40,855.92 L470.65,855.92 L470.90,855.92 L471.15,855.93 L471.40,855.93 L471.65,855.93 L471.90,855.93 L472.15,855.93 L472.40,855.93 L472.65,855.93 L472.90,855.93 L473.15,855.93 L473.40,855.93 L473.65,855.93 L473.90,855.93 L474.15,855.93 L474.40,855.93 L474.65,855.93 L474.90,855.93 L475.15,855.93 L475.40,855.93 L475.65,855.93 L475.90,855.93 L476.15,855.93 L476.40,855.93 L476.65,855.93 L476.90,855.93 L477.15,855.93 L477.40,855.93 L477.65,855.93 L477.90,855.93 L478.15,855.93 L478.40,855.93 L478.65,855.93 L478.90,855.93 L479.15,855.93 L479.40,855.93 L479.65,855.93 L479.90,855.93 L480.15,855.93 L480.40,855.93 L480.65,855.92 L480.90,855.92 L481.15,855.92 L481.40,855.92 L481.65,855.92 L481.90,855.92 L482.15,855.92 L482.40,855.92 L482.65,855.92 L482.90,855.92 L483.15,855.92 L483.40,855.92 L483.65,855.92 L483.90,855.92 L484.15,855.92 L484.40,855.92 L484.65,855.92 L484.90,855.92 L485.15,855.92 L485.40,855.92 L485.65,855.92 L485.90,855.92 L486.15,855.92 L486.40,855.92 L486.65,855.92 L486.90,855.92 L487.15,855.92 L487.40,855.92 L487.65,855.92 L487.90,855.92 L488.15,855.92 L488.40,855.92 L488.65,855.92 L488.90,855.91 L489.15,855.91 L489.40,855.91 L489.65,855.91 L489.90,855.91 L490.15,855.91 L490.40,855.91 L490.65,855.91 L490.90,855.91 L491.15,855.91 L491.40,855.91 L491.65,855.91 L491.90,855.91 L492.15,855.91 L492.40,855.91 L492.65,855.91 L492.90,855.91 L493.15,855.91 L493.40,855.91 L493.65,855.91 L493.90,855.91 L494.15,855.91 L494.40,855.91 L494.65,855.90 L494.90,855.90 L495.15,855.90 L495.40,855.90 L495.65,855.90 L495.90,855.90 L496.15,855.90 L496.40,855.90 L496.65,855.90 L496.90,855.90 L497.15,855.90 L497.40,855.90 L497.65,855.90 L497.90,855.90 L498.15,855.90 L498.40,855.90 L498.65,855.90 L498.90,855.90 L499.15,855.90 L499.40,855.90 L499.65,855.89 L499.90,855.89 L500.15,855.89 L500.40,855.89 L500.65,855.89 L500.90,855.89 L501.15,855.89 L501.40,855.89 L501.65,855.89 L501.90,855.89 L502.15,855.89 L502.40,855.89 L502.65,855.89 L502.90,855.89 L503.15,855.89 L503.40,855.89 L503.65,855.89 L503.90,855.89 L504.15,855.89 L504.40,855.89 L504.65,855.88 L504.90,855.88 L505.15,855.88 L505.40,855.88 L505.65,855.88 L505.90,855.88 L506.15,855.88 L506.40,855.88 L506.65,855.88 L506.90,855.88 L507.15,855.88 L507.40,855.88 L507.65,855.88 L507.90,855.88 L508.15,855.88 L508.40,855.88 L508.65,855.88 L508.90,855.88 L509.15,855.88 L509.40,855.88 L509.65,855.88 L509.90,855.87 L510.15,855.87 L510.40,855.87 L510.65,855.87 L510.90,855.87 L511.15,855.87 L511.40,855.87 L511.65,855.87 L511.90,855.87 L512.15,855.87 L512.40,855.87 L512.65,855.87 L512.90,855.87 L513.15,855.87 L513.40,855.87 L513.65,855.87 L513.90,855.87 L514.15,855.87 L514.40,855.87 L514.65,855.87 L514.90,855.87 L515.15,855.87 L515.40,855.87 L515.65,855.87 L515.90,855.87 L516.15,855.87 L516.40,855.86 L516.65,855.86 L516.90,855.86 L517.15,855.86 L517.40,855.86 L517.65,855.86 L517.90,855.86 L518.15,855.86 L518.40,855.86 L518.65,855.86 L518.90,855.86 L519.15,855.86 L519.40,855.86 L519.65,855.86 L519.90,855.86 L520.15,855.86 L520.40,855.86 L520.65,855.86 L520.90,855.86 L521.15,855.86 L521.40,855.86 L521.65,855.86 L521.90,855.86 L522.15,855.86 L522.40,855.86 L522.65,855.86 L522.90,855.86 L523.15,855.86 L523.40,855.86 L523.65,855.86 L523.90,855.86 L524.15,855.86 L524.40,855.86 L524.65,855.86 L524.90,855.86 L525.15,855.86 L525.40,855.86 L525.65,855.86 L525.90,855.86 L526.15,855.86 L526.40,855.86 L526.65,855.86 L526.90,855.86 L527.15,855.86 L527.40,855.86 L527.65,855.86 L527.90,855.86 L528.15,855.86 L528.40,855.86 L528.65,855.86 L528.90,855.86 L529.15,855.86 L529.40,855.86 L529.65,855.86 L529.90,855.86 L530.15,855.86 L530.40,855.86 L530.65,855.86 L530.90,855.86 L531.15,855.86 L531.40,855.86 L531.65,855.86 L531.90,855.86 L532.15,855.86 L532.40,855.86 L532.65,855.86 L532.90,855.86 L533.15,855.86 L533.40,855.86 L533.65,855.86 L533.90,855.86 L534.15,855.86 L534.40,855.86 L534.65,855.86 L534.90,855.87 L535.15,855.87 L535.40,855.87 L535.65,855.87 L535.90,855.87 L536.15,855.87 L536.40,855.87 L536.65,855.87 L536.90,855.87 L537.15,855.87 L537.40,855.87 L537.65,855.87 L537.90,855.87 L538.15,855.87 L538.40,855.87 L538.65,855.87 L538.90,855.87 L539.15,855.87 L539.40,855.88 L539.65,855.88 L539.90,855.88 L540.15,855.88 L540.40,855.88 L540.65,855.88 L540.90,855.88 L541.15,855.88 L541.40,855.88 L541.65,855.88 L541.90,855.88 L542.15,855.88 L542.40,855.88 L542.65,855.89 L542.90,855.89 L543.15,855.89 L543.40,855.89 L543.65,855.89 L543.90,855.89 L544.15,855.89 L544.40,855.89 L544.65,855.89 L544.90,855.89 L545.15,855.90 L545.40,855.90 L545.65,855.90 L545.90,855.90 L546.15,855.90 L546.40,855.90 L546.65,855.90 L546.90,855.90 L547.15,855.90 L547.40,855.91 L547.65,855.91 L547.90,855.91 L548.15,855.91 L548.40,855.91 L548.65,855.91 L548.90,855.91 L549.15,855.91 L549.40,855.92 L549.65,855.92 L549.90,855.92 L550.15,855.92 L550.40,855.92 L550.65,855.92" fill="none" stroke="#f00" stroke-width="2.1"/>
<g fill="#f0f"><circle cx="111.90" cy="745.53" r="1.95"/><circle cx="126.10" cy="744.06" r="1.95"/><circle cx="139.80" cy="740.98" r="1.95"/><circle cx="153.30" cy="735.95" r="1.95"/><circle cx="166.00" cy="729.10" r="1.95"/><circle cx="177.30" cy="721.22" r="1.95"/><circle cx="188.10" cy="712.08" r="1.95"/><circle cx="198.50" cy="701.85" r="1.95"/><circle cx="207.90" cy="691.64" r="1.95"/><circle cx="217.30" cy="680.74" r="1.95"/><circle cx="226.20" cy="669.98" r="1.95"/><circle cx="235.20" cy="658.81" r="1.95"/><circle cx="243.60" cy="648.26" r="1.95"/><circle cx="252.80" cy="636.73" r="1.95"/><circle cx="261.50" cy="625.99" r="1.95"/><circle cx="270.70" cy="614.97" r="1.95"/><circle cx="280.10" cy="604.24" r="1.95"/><circle cx="289.80" cy="593.91" r="1.95"/><circle cx="300.00" cy="584.04" r="1.95"/><circle cx="310.80" cy="574.69" r="1.95"/><circle cx="322.10" cy="566.05" r="1.95"/><circle cx="330.40" cy="560.41" r="1.95"/><circle cx="342.40" cy="553.28" r="1.95"/><circle cx="355.50" cy="546.76" r="1.95"/><circle cx="368.50" cy="541.48" r="1.95"/><circle cx="381.90" cy="537.11" r="1.95"/><circle cx="395.80" cy="533.57" r="1.95"/><circle cx="409.60" cy="530.90" r="1.95"/><circle cx="423.50" cy="528.88" r="1.95"/><circle cx="437.60" cy="527.42" r="1.95"/><circle cx="451.50" cy="526.46" r="1.95"/><circle cx="465.60" cy="525.88" r="1.95"/><circle cx="480.00" cy="525.60" r="1.95"/><circle cx="494.40" cy="525.51" r="1.95"/><circle cx="508.60" cy="525.53" r="1.95"/><circle cx="522.60" cy="525.54" r="1.95"/><circle cx="536.70" cy="525.45" r="1.95"/></g>
<g fill="none" stroke="#00f" stroke-width="2.1">
<path d="M105.40,745.78 L105.65,745.78 L105.90,745.78 L106.15,745.79 L106.40,745.79 L106.65,745.79 L106.90,745.79 L107.15,745.80 L107.40,745.80 L107.65,745.80 L107.90,745.80 L108.15,745.81 L108.40,745.81 L108.65,745.81 L108.90,745.81 L109.15,745.82 L109.40,745.82 L109.65,745.82 L109.90,745.83 L110.15,745.83 L110.40,745.83 L110.65,745.84 L110.90,745.84 L111.15,745.84 L111.40,745.85 L111.65,745.85 L111.90,745.85 L112.15,745.86 L112.40,745.86 L112.65,745.86 L112.90,745.87 L113.15,745.87 L113.40,745.88 L113.65,745.88 L113.90,745.89 L114.15,745.89 L114.40,745.89 L114.65,745.90 L114.90,745.90 L115.15,745.91 L115.40,745.91 L115.65,745.92 L115.90,745.92 L116.15,745.93 L116.40,745.93 L116.65,745.94 L116.90,745.95 L117.15,745.95 L117.40,745.96 L117.65,745.96 L117.90,745.97 L118.15,745.97 L118.40,745.98 L118.65,745.99 L118.90,745.99 L119.15,746.00 L119.40,746.01 L119.55,746.01"/>
<path d="M133.68,746.60 L133.90,746.62 L134.15,746.63 L134.40,746.65 L134.65,746.66 L134.90,746.68 L135.15,746.69 L135.40,746.71 L135.65,746.73 L135.90,746.74 L136.15,746.76 L136.40,746.77 L136.65,746.79 L136.90,746.81 L137.15,746.83 L137.40,746.84 L137.65,746.86 L137.90,746.88 L138.15,746.90 L138.40,746.91 L138.65,746.93 L138.90,746.95 L139.15,746.97 L139.40,746.99 L139.65,747.01 L139.90,747.03 L140.15,747.05 L140.40,747.07 L140.65,747.09 L140.90,747.11 L141.15,747.13 L141.40,747.15 L141.65,747.17 L141.90,747.19 L142.15,747.21 L142.40,747.23 L142.65,747.25 L142.90,747.27 L143.15,747.30 L143.40,747.32 L143.65,747.34 L143.90,747.36 L144.15,747.39 L144.40,747.41 L144.65,747.43 L144.90,747.46 L145.15,747.48 L145.40,747.50 L145.65,747.53 L145.90,747.55 L146.15,747.58 L146.40,747.60 L146.65,747.63 L146.90,747.65 L147.15,747.68 L147.40,747.70 L147.65,747.73 L147.79,747.74"/>
<path d="M161.81,749.60 L161.90,749.61 L162.15,749.65 L162.40,749.70 L162.65,749.74 L162.90,749.78 L163.15,749.82 L163.40,749.86 L163.65,749.91 L163.90,749.95 L164.15,749.99 L164.40,750.04 L164.65,750.08 L164.90,750.12 L165.15,750.17 L165.40,750.21 L165.65,750.26 L165.90,750.30 L166.15,750.35 L166.40,750.39 L166.65,750.44 L166.90,750.49 L167.15,750.53 L167.40,750.58 L167.65,750.63 L167.90,750.68 L168.15,750.73 L168.40,750.77 L168.65,750.82 L168.90,750.87 L169.15,750.92 L169.40,750.97 L169.65,751.02 L169.90,751.07 L170.15,751.12 L170.40,751.17 L170.65,751.22 L170.90,751.27 L171.15,751.33 L171.40,751.38 L171.65,751.43 L171.90,751.48 L172.15,751.54 L172.40,751.59 L172.65,751.65 L172.90,751.70 L173.15,751.75 L173.40,751.81 L173.65,751.86 L173.90,751.92 L174.15,751.98 L174.40,752.03 L174.65,752.09 L174.90,752.15 L175.15,752.20 L175.40,752.26 L175.65,752.32 L175.70,752.33"/>
<path d="M189.34,756.05 L189.40,756.06 L189.65,756.14 L189.90,756.22 L190.15,756.30 L190.40,756.38 L190.65,756.46 L190.90,756.54 L191.15,756.62 L191.40,756.71 L191.65,756.79 L191.90,756.87 L192.15,756.95 L192.40,757.04 L192.65,757.12 L192.90,757.20 L193.15,757.29 L193.40,757.37 L193.65,757.46 L193.90,757.54 L194.15,757.63 L194.40,757.72 L194.65,757.80 L194.90,757.89 L195.15,757.98 L195.40,758.07 L195.65,758.16 L195.90,758.25 L196.15,758.34 L196.40,758.43 L196.65,758.52 L196.90,758.61 L197.15,758.70 L197.40,758.79 L197.65,758.88 L197.90,758.97 L198.15,759.07 L198.40,759.16 L198.65,759.26 L198.90,759.35 L199.15,759.44 L199.40,759.54 L199.65,759.64 L199.90,759.73 L200.15,759.83 L200.40,759.92 L200.65,760.02 L200.90,760.12 L201.15,760.22 L201.40,760.32 L201.65,760.42 L201.90,760.52 L202.15,760.62 L202.40,760.72 L202.65,760.82 L202.66,760.82"/>
<path d="M215.57,766.61 L215.65,766.66 L215.90,766.78 L216.15,766.90 L216.40,767.02 L216.65,767.15 L216.90,767.27 L217.15,767.40 L217.40,767.52 L217.65,767.65 L217.90,767.77 L218.15,767.90 L218.40,768.02 L218.65,768.15 L218.90,768.28 L219.15,768.40 L219.40,768.53 L219.65,768.66 L219.90,768.79 L220.15,768.92 L220.40,769.04 L220.65,769.17 L220.90,769.30 L221.15,769.43 L221.40,769.56 L221.65,769.69 L221.90,769.82 L222.15,769.95 L222.40,770.09 L222.65,770.22 L222.90,770.35 L223.15,770.48 L223.40,770.61 L223.65,770.75 L223.90,770.88 L224.15,771.01 L224.40,771.15 L224.65,771.28 L224.90,771.42 L225.15,771.55 L225.40,771.69 L225.65,771.82 L225.90,771.96 L226.15,772.09 L226.40,772.23 L226.65,772.36 L226.90,772.50 L227.15,772.64 L227.40,772.78 L227.65,772.91 L227.90,773.05 L228.11,773.17"/>
<path d="M240.37,780.23 L240.40,780.25 L240.65,780.40 L240.90,780.55 L241.15,780.70 L241.40,780.85 L241.65,781.00 L241.90,781.15 L242.15,781.30 L242.40,781.45 L242.65,781.60 L242.90,781.75 L243.15,781.90 L243.40,782.05 L243.65,782.21 L243.90,782.36 L244.15,782.51 L244.40,782.66 L244.65,782.81 L244.90,782.96 L245.15,783.12 L245.40,783.27 L245.65,783.42 L245.90,783.58 L246.15,783.73 L246.40,783.88 L246.65,784.03 L246.90,784.19 L247.15,784.34 L247.40,784.50 L247.65,784.65 L247.90,784.80 L248.15,784.96 L248.40,785.11 L248.65,785.27 L248.90,785.42 L249.15,785.57 L249.40,785.73 L249.65,785.88 L249.90,786.04 L250.15,786.19 L250.40,786.35 L250.65,786.50 L250.90,786.66 L251.15,786.82 L251.40,786.97 L251.65,787.13 L251.90,787.28 L252.15,787.44 L252.40,787.59 L252.44,787.62"/>
<path d="M264.40,795.17 L264.65,795.32 L264.90,795.48 L265.15,795.64 L265.40,795.80 L265.65,795.96 L265.90,796.12 L266.15,796.28 L266.40,796.44 L266.65,796.59 L266.90,796.75 L267.15,796.91 L267.40,797.07 L267.65,797.23 L267.90,797.39 L268.15,797.55 L268.40,797.70 L268.65,797.86 L268.90,798.02 L269.15,798.18 L269.40,798.34 L269.65,798.50 L269.90,798.66 L270.15,798.82 L270.40,798.97 L270.65,799.13 L270.90,799.29 L271.15,799.45 L271.40,799.61 L271.65,799.77 L271.90,799.92 L272.15,800.08 L272.40,800.24 L272.65,800.40 L272.90,800.56 L273.15,800.71 L273.40,800.87 L273.65,801.03 L273.90,801.19 L274.15,801.35 L274.40,801.50 L274.65,801.66 L274.90,801.82 L275.15,801.98 L275.40,802.13 L275.65,802.29 L275.90,802.45 L276.15,802.61 L276.36,802.74"/>
<path d="M288.39,810.19 L288.40,810.20 L288.65,810.35 L288.90,810.50 L289.15,810.65 L289.40,810.80 L289.65,810.95 L289.90,811.10 L290.15,811.25 L290.40,811.40 L290.65,811.55 L290.90,811.70 L291.15,811.85 L291.40,812.00 L291.65,812.15 L291.90,812.30 L292.15,812.45 L292.40,812.60 L292.65,812.75 L292.90,812.90 L293.15,813.05 L293.40,813.20 L293.65,813.34 L293.90,813.49 L294.15,813.64 L294.40,813.79 L294.65,813.93 L294.90,814.08 L295.15,814.23 L295.40,814.37 L295.65,814.52 L295.90,814.67 L296.15,814.81 L296.40,814.96 L296.65,815.10 L296.90,815.25 L297.15,815.39 L297.40,815.54 L297.65,815.68 L297.90,815.83 L298.15,815.97 L298.40,816.12 L298.65,816.26 L298.90,816.40 L299.15,816.55 L299.40,816.69 L299.65,816.83 L299.90,816.98 L300.15,817.12 L300.40,817.26 L300.58,817.36"/>
<path d="M313.03,824.09 L313.15,824.15 L313.40,824.27 L313.65,824.40 L313.90,824.53 L314.15,824.65 L314.40,824.78 L314.65,824.90 L314.90,825.03 L315.15,825.15 L315.40,825.28 L315.65,825.40 L315.90,825.53 L316.15,825.65 L316.40,825.77 L316.65,825.90 L316.90,826.02 L317.15,826.14 L317.40,826.26 L317.65,826.38 L317.90,826.50 L318.15,826.63 L318.40,826.75 L318.65,826.87 L318.90,826.99 L319.15,827.11 L319.40,827.22 L319.65,827.34 L319.90,827.46 L320.15,827.58 L320.40,827.70 L320.65,827.82 L320.90,827.93 L321.15,828.05 L321.40,828.17 L321.65,828.28 L321.90,828.40 L322.15,828.51 L322.40,828.63 L322.65,828.74 L322.90,828.86 L323.15,828.97 L323.40,829.09 L323.65,829.20 L323.90,829.31 L324.15,829.43 L324.40,829.54"/>
<path d="M324.65,829.65 L324.90,829.76 L325.15,829.88 L325.40,829.99 L325.65,830.10 L325.90,830.21 L326.15,830.32 L326.40,830.43 L326.65,830.54 L326.90,830.65 L327.15,830.76 L327.40,830.87 L327.65,830.98 L327.90,831.08 L328.15,831.19 L328.40,831.30 L328.65,831.41 L328.90,831.52 L329.15,831.62 L329.40,831.73 L329.65,831.83 L329.90,831.94 L330.15,832.05 L330.40,832.15 L330.65,832.26 L330.90,832.36 L331.15,832.46 L331.40,832.57 L331.65,832.67 L331.90,832.78 L332.15,832.88 L332.40,832.98 L332.65,833.08 L332.90,833.19 L333.15,833.29 L333.40,833.39 L333.65,833.49 L333.90,833.59 L334.15,833.69 L334.40,833.79 L334.65,833.89 L334.90,833.99 L335.15,834.09 L335.40,834.19 L335.65,834.29 L335.90,834.39 L336.15,834.49 L336.40,834.59 L336.65,834.68 L336.90,834.78 L337.15,834.88 L337.40,834.98 L337.65,835.07 L337.71,835.09"/>
<path d="M351.04,839.83 L351.15,839.86 L351.40,839.94 L351.65,840.02 L351.90,840.10 L352.15,840.18 L352.40,840.26 L352.65,840.34 L352.90,840.42 L353.15,840.50 L353.40,840.58 L353.65,840.66 L353.90,840.74 L354.15,840.82 L354.40,840.89 L354.65,840.97 L354.90,841.05 L355.15,841.13 L355.40,841.20 L355.65,841.28 L355.90,841.36 L356.15,841.43 L356.40,841.51 L356.65,841.58 L356.90,841.66 L357.15,841.73 L357.40,841.81 L357.65,841.88 L357.90,841.96 L358.15,842.03 L358.40,842.10 L358.65,842.18 L358.90,842.25 L359.15,842.32 L359.40,842.40 L359.65,842.47 L359.90,842.54 L360.15,842.61 L360.40,842.69 L360.65,842.76 L360.90,842.83 L361.15,842.90 L361.40,842.97 L361.65,843.04 L361.90,843.11 L362.15,843.18 L362.40,843.25 L362.65,843.32 L362.90,843.39 L363.15,843.46 L363.40,843.53 L363.65,843.59 L363.90,843.66 L364.15,843.73 L364.40,843.80 L364.61,843.85"/>
<path d="M378.35,847.20 L378.40,847.21 L378.65,847.26 L378.90,847.31 L379.15,847.37 L379.40,847.42 L379.65,847.48 L379.90,847.53 L380.15,847.58 L380.40,847.63 L380.65,847.69 L380.90,847.74 L381.15,847.79 L381.40,847.84 L381.65,847.90 L381.90,847.95 L382.15,848.00 L382.40,848.05 L382.65,848.10 L382.90,848.15 L383.15,848.20 L383.40,848.25 L383.65,848.30 L383.90,848.35 L384.15,848.40 L384.40,848.45 L384.65,848.50 L384.90,848.55 L385.15,848.60 L385.40,848.64 L385.65,848.69 L385.90,848.74 L386.15,848.79 L386.40,848.84 L386.65,848.88 L386.90,848.93 L387.15,848.98 L387.40,849.03 L387.65,849.07 L387.90,849.12 L388.15,849.16 L388.40,849.21 L388.65,849.26 L388.90,849.30 L389.15,849.35 L389.40,849.39 L389.65,849.44 L389.90,849.48 L390.15,849.53 L390.40,849.57 L390.65,849.62 L390.90,849.66 L391.15,849.70 L391.40,849.75 L391.65,849.79 L391.90,849.83 L392.15,849.88 L392.24,849.89"/>
<path d="M406.24,851.99 L406.40,852.01 L406.65,852.05 L406.90,852.08 L407.15,852.11 L407.40,852.14 L407.65,852.17 L407.90,852.21 L408.15,852.24 L408.40,852.27 L408.65,852.30 L408.90,852.33 L409.15,852.36 L409.40,852.39 L409.65,852.42 L409.90,852.45 L410.15,852.48 L410.40,852.51 L410.65,852.54 L410.90,852.57 L411.15,852.60 L411.40,852.63 L411.65,852.66 L411.90,852.68 L412.15,852.71 L412.40,852.74 L412.65,852.77 L412.90,852.80 L413.15,852.83 L413.40,852.85 L413.65,852.88 L413.90,852.91 L414.15,852.94 L414.40,852.96 L414.65,852.99 L414.90,853.02 L415.15,853.04 L415.40,853.07 L415.65,853.10 L415.90,853.12 L416.15,853.15 L416.40,853.17 L416.65,853.20 L416.90,853.23 L417.15,853.25 L417.40,853.28 L417.65,853.30 L417.90,853.33 L418.15,853.35 L418.40,853.38 L418.65,853.40 L418.90,853.43 L419.15,853.45 L419.40,853.47 L419.65,853.50 L419.90,853.52 L420.15,853.54 L420.30,853.56"/>
<path d="M434.41,854.66 L434.65,854.67 L434.90,854.69 L435.15,854.70 L435.40,854.72 L435.65,854.74 L435.90,854.75 L436.15,854.77 L436.40,854.78 L436.65,854.79 L436.90,854.81 L437.15,854.82 L437.40,854.84 L437.65,854.85 L437.90,854.87 L438.15,854.88 L438.40,854.89 L438.65,854.91 L438.90,854.92 L439.15,854.94 L439.40,854.95 L439.65,854.96 L439.90,854.98 L440.15,854.99 L440.40,855.00 L440.65,855.01 L440.90,855.03 L441.15,855.04 L441.40,855.05 L441.65,855.07 L441.90,855.08 L442.15,855.09 L442.40,855.10 L442.65,855.11 L442.90,855.13 L443.15,855.14 L443.40,855.15 L443.65,855.16 L443.90,855.17 L444.15,855.18 L444.40,855.19 L444.65,855.21 L444.90,855.22 L445.15,855.23 L445.40,855.24 L445.65,855.25 L445.90,855.26 L446.15,855.27 L446.40,855.28 L446.65,855.29 L446.90,855.30 L447.15,855.31 L447.40,855.32 L447.65,855.33 L447.90,855.34 L448.15,855.35 L448.40,855.36 L448.54,855.37"/>
<path d="M462.68,855.76 L462.90,855.76 L463.15,855.77 L463.40,855.77 L463.65,855.78 L463.90,855.78 L464.15,855.78 L464.40,855.79 L464.65,855.79 L464.90,855.80 L465.15,855.80 L465.40,855.80 L465.65,855.81 L465.90,855.81 L466.15,855.82 L466.40,855.82 L466.65,855.82 L466.90,855.83 L467.15,855.83 L467.40,855.83 L467.65,855.84 L467.90,855.84 L468.15,855.84 L468.40,855.85 L468.65,855.85 L468.90,855.85 L469.15,855.86 L469.40,855.86 L469.65,855.86 L469.90,855.86 L470.15,855.87 L470.40,855.87 L470.65,855.87 L470.90,855.87 L471.15,855.88 L471.40,855.88 L471.65,855.88 L471.90,855.88 L472.15,855.89 L472.40,855.89 L472.65,855.89 L472.90,855.89 L473.15,855.89 L473.40,855.90 L473.65,855.90 L473.90,855.90 L474.15,855.90 L474.40,855.90 L474.65,855.90 L474.90,855.91 L475.15,855.91 L475.40,855.91 L475.65,855.91 L475.90,855.91 L476.15,855.91 L476.40,855.91 L476.65,855.92 L476.83,855.92"/>
<path d="M490.98,855.92 L491.15,855.92 L491.40,855.92 L491.65,855.91 L491.90,855.91 L492.15,855.91 L492.40,855.91 L492.65,855.91 L492.90,855.91 L493.15,855.91 L493.40,855.91 L493.65,855.91 L493.90,855.90 L494.15,855.90 L494.40,855.90 L494.65,855.90 L494.90,855.90 L495.15,855.90 L495.40,855.90 L495.65,855.90 L495.90,855.89 L496.15,855.89 L496.40,855.89 L496.65,855.89 L496.90,855.89 L497.15,855.89 L497.40,855.89 L497.65,855.89 L497.90,855.88 L498.15,855.88 L498.40,855.88 L498.65,855.88 L498.90,855.88 L499.15,855.88 L499.40,855.88 L499.65,855.87 L499.90,855.87 L500.15,855.87 L500.40,855.87 L500.65,855.87 L500.90,855.87 L501.15,855.86 L501.40,855.86 L501.65,855.86 L501.90,855.86 L502.15,855.86 L502.40,855.86 L502.65,855.86 L502.90,855.85 L503.15,855.85 L503.40,855.85 L503.65,855.85 L503.90,855.85 L504.15,855.85 L504.40,855.84 L504.65,855.84 L504.90,855.84 L505.13,855.84"/>
<path d="M519.28,855.77 L519.40,855.77 L519.65,855.77 L519.90,855.76 L520.15,855.76 L520.40,855.76 L520.65,855.76 L520.90,855.76 L521.15,855.76 L521.40,855.76 L521.65,855.76 L521.90,855.76 L522.15,855.76 L522.40,855.76 L522.65,855.76 L522.90,855.76 L523.15,855.76 L523.40,855.76 L523.65,855.76 L523.90,855.76 L524.15,855.76 L524.40,855.76 L524.65,855.76 L524.90,855.76 L525.15,855.76 L525.40,855.76 L525.65,855.76 L525.90,855.76 L526.15,855.76 L526.40,855.76 L526.65,855.76 L526.90,855.76 L527.15,855.76 L527.40,855.76 L527.65,855.76 L527.90,855.76 L528.15,855.76 L528.40,855.76 L528.65,855.76 L528.90,855.76 L529.15,855.76 L529.40,855.76 L529.65,855.76 L529.90,855.76 L530.15,855.76 L530.40,855.76 L530.65,855.76 L530.90,855.76 L531.15,855.76 L531.40,855.77 L531.65,855.77 L531.90,855.77 L532.15,855.77 L532.40,855.77 L532.65,855.77 L532.90,855.77 L533.15,855.77 L533.40,855.77 L533.43,855.78"/>
<path d="M547.58,855.95 L547.65,855.95 L547.90,855.95 L548.15,855.96 L548.40,855.96 L548.65,855.97 L548.90,855.97 L549.15,855.98 L549.40,855.98 L549.65,855.99 L549.90,855.99 L550.15,856.00 L550.40,856.01 L550.65,856.01"/>
</g>
<g fill="none" stroke="#000" stroke-width="1.8">
<path d="M299.4,665.7V675.7 M299.4,687.7V697.7"/>
<circle cx="299.4" cy="681.7" r="6.0"/>
<circle cx="303.7" cy="664.5" r="6.0"/>
<circle cx="308.6" cy="659.6" r="6.0"/>
<circle cx="313.4" cy="652.2" r="6.0"/>
<circle cx="317.8" cy="651.8" r="6.0"/>
<path d="M322.1,623.1999999999999V629.9 M322.1,641.9V648.6"/>
<circle cx="322.1" cy="635.9" r="6.0"/>
</g>
<g fill="#000"><rect x="298.40" y="671.30" width="11.6" height="11.6"/><rect x="301.30" y="675.40" width="11.6" height="11.6"/><rect x="304.00" y="675.20" width="11.6" height="11.6"/><rect x="309.30" y="672.50" width="11.6" height="11.6"/><rect x="311.80" y="669.30" width="11.6" height="11.6"/><rect x="315.00" y="664.90" width="11.6" height="11.6"/></g>
<g fill="none" stroke="#00f" stroke-width="1.7">
<path d="M242.7,783.6V787.8000000000001 M242.7,799.6V803.8000000000001"/>
<rect x="236.80" y="787.80" width="11.8" height="11.8"/>
<rect x="256.60" y="800.80" width="11.8" height="11.8"/>
<rect x="279.10" y="808.10" width="11.8" height="11.8"/>
<rect x="298.90" y="810.90" width="11.8" height="11.8"/>
<rect x="321.30" y="815.90" width="11.8" height="11.8"/>
<rect x="344.10" y="819.80" width="11.8" height="11.8"/>
<rect x="363.90" y="808.10" width="11.8" height="11.8"/>
<rect x="386.50" y="823.30" width="11.8" height="11.8"/>
<path d="M415.3,808.3000000000001V818.7 M415.3,830.5V840.9"/>
<rect x="409.40" y="818.70" width="11.8" height="11.8"/>
</g>
<g fill="#00f" stroke="#00f" stroke-width="1.7">
<path d="M242.7,767.3V797.7"/>
<circle cx="242.7" cy="782.5" r="6.1" stroke="none"/>
<circle cx="262.5" cy="814.8" r="6.1" stroke="none"/>
<circle cx="284.5" cy="815.2" r="6.1" stroke="none"/>
<circle cx="304.6" cy="820.6" r="6.1" stroke="none"/>
<circle cx="327.2" cy="822" r="6.1" stroke="none"/>
<circle cx="349.9" cy="828.0" r="6.1" stroke="none"/>
<path d="M369.8,805.0999999999999V819.5"/>
<circle cx="369.8" cy="812.3" r="6.1" stroke="none"/>
<path d="M392.4,815.9V842.6999999999999"/>
<circle cx="392.4" cy="829.3" r="6.1" stroke="none"/>
</g>
<g stroke="#000" fill="none"><path d="M98.4,470.4V1021.25" stroke-width="0.55"/><path d="M551.0,470.4V1021.25" stroke-width="0.8"/><path d="M98.2,470.4H551.0" stroke-width="0.8"/><path d="M98.2,1021.3H551.0" stroke-width="0.7"/></g>
<g stroke="#000" stroke-width="1.8" fill="none">
<path d="M98.20,1021.25v-8 M98.20,470.4v8"/>
<path d="M120.84,1021.25v-4 M120.84,470.4v4"/>
<path d="M98.2,993.71h4 M551.0,993.71h-4"/>
<path d="M143.48,1021.25v-4 M143.48,470.4v4"/>
<path d="M98.2,966.16h8 M551.0,966.16h-8"/>
<path d="M166.12,1021.25v-4 M166.12,470.4v4"/>
<path d="M98.2,938.62h4 M551.0,938.62h-4"/>
<path d="M188.76,1021.25v-8 M188.76,470.4v8"/>
<path d="M98.2,911.08h4 M551.0,911.08h-4"/>
<path d="M211.40,1021.25v-4 M211.40,470.4v4"/>
<path d="M98.2,883.54h4 M551.0,883.54h-4"/>
<path d="M234.04,1021.25v-4 M234.04,470.4v4"/>
<path d="M98.2,856.00h8 M551.0,856.00h-8"/>
<path d="M256.68,1021.25v-4 M256.68,470.4v4"/>
<path d="M98.2,828.45h4 M551.0,828.45h-4"/>
<path d="M279.32,1021.25v-8 M279.32,470.4v8"/>
<path d="M98.2,800.91h4 M551.0,800.91h-4"/>
<path d="M301.96,1021.25v-4 M301.96,470.4v4"/>
<path d="M98.2,773.37h4 M551.0,773.37h-4"/>
<path d="M324.60,1021.25v-4 M324.60,470.4v4"/>
<path d="M98.2,745.83h8 M551.0,745.83h-8"/>
<path d="M347.24,1021.25v-4 M347.24,470.4v4"/>
<path d="M98.2,718.28h4 M551.0,718.28h-4"/>
<path d="M369.88,1021.25v-8 M369.88,470.4v8"/>
<path d="M98.2,690.74h4 M551.0,690.74h-4"/>
<path d="M392.52,1021.25v-4 M392.52,470.4v4"/>
<path d="M98.2,663.20h4 M551.0,663.20h-4"/>
<path d="M415.16,1021.25v-4 M415.16,470.4v4"/>
<path d="M98.2,635.65h8 M551.0,635.65h-8"/>
<path d="M437.80,1021.25v-4 M437.80,470.4v4"/>
<path d="M98.2,608.11h4 M551.0,608.11h-4"/>
<path d="M460.44,1021.25v-8 M460.44,470.4v8"/>
<path d="M98.2,580.57h4 M551.0,580.57h-4"/>
<path d="M483.08,1021.25v-4 M483.08,470.4v4"/>
<path d="M98.2,553.03h4 M551.0,553.03h-4"/>
<path d="M505.72,1021.25v-4 M505.72,470.4v4"/>
<path d="M98.2,525.48h8 M551.0,525.48h-8"/>
<path d="M528.36,1021.25v-4 M528.36,470.4v4"/>
<path d="M98.2,497.94h4 M551.0,497.94h-4"/>
<path d="M551.00,1021.25v-8 M551.00,470.4v8"/>
</g>
<g font-family="'Liberation Sans', sans-serif" font-weight="bold" fill="#000">
<text x="98.5" y="1038.9" font-size="19.1" text-anchor="middle">0</text>
<text x="189.0" y="1038.9" font-size="19.1" text-anchor="middle">0.2</text>
<text x="279.5" y="1038.9" font-size="19.1" text-anchor="middle">0.4</text>
<text x="370.1" y="1038.9" font-size="19.1" text-anchor="middle">0.6</text>
<text x="460.6" y="1038.9" font-size="19.1" text-anchor="middle">0.8</text>
<text x="551.1" y="1038.9" font-size="19.1" text-anchor="middle" clip-path="url(#c1)">1</text>
<text x="94.5" y="532.7" font-size="19.1" text-anchor="end">0.4</text>
<text x="94.5" y="642.9" font-size="19.1" text-anchor="end">0.2</text>
<text x="94.5" y="753.0" font-size="19.1" text-anchor="end">0</text>
<text x="94.5" y="863.2" font-size="19.1" text-anchor="end">-0.2</text>
<text x="94.5" y="973.4" font-size="19.1" text-anchor="end">-0.4</text>
<text transform="translate(39.2,624.4) rotate(-90)" font-size="27.2">Polarization</text>
<text x="524.5" y="1060.6" font-size="26.5">x</text><text x="539.8" y="1069.6" font-size="18.6">F</text>
<g font-size="29"><text x="144.3" y="519.6">p</text><text x="162.6" y="522.2">+</text><text x="179.4" y="519.6">p/</text><text transform="translate(206.0,519.6) scale(1,1.045)">A</text><text transform="translate(255.4,519.6) scale(1,1.045)">H</text><text x="277.3" y="522.2">+</text><text transform="translate(293.8,519.6) scale(1,1.045)">X</text></g>
<path d="M227.9,512.5H254.1 M246.7,505.2L254.7,512.5L246.7,519.8" fill="none" stroke="#000" stroke-width="1.6" stroke-linejoin="miter"/>
<text x="125.2" y="857.9" font-size="21.4">p</text><text x="139.3" y="865.1" font-size="14.5">inc</text><text x="160.6" y="857.9" font-size="21.4">=800 GeV/c</text>
<text x="212.0" y="895.9" font-size="18.7" letter-spacing="0.3">pCu</text><path d="M249.9,891.4H266.0 M261.8,887.0L266.6,891.4L261.8,895.8" fill="none" stroke="#000" stroke-width="1.1" stroke-linejoin="miter"/><text transform="translate(267.4,895.9) scale(1.08,1)" font-family="'Liberation Serif', serif" font-weight="normal" stroke="#000" stroke-linejoin="round" stroke-width="0.2" font-size="19">Σ</text><text x="278.7" y="888.6" font-size="12.5" stroke="#000" stroke-width="0.3">+</text><text x="291.7" y="895.9" font-size="18.7" letter-spacing="0.08">X (2.9 mrad)</text>
<text x="212.0" y="915.5" font-size="18.7" letter-spacing="0.3">pCu</text><path d="M249.9,911.0H266.0 M261.8,906.6L266.6,911.0L261.8,915.4" fill="none" stroke="#000" stroke-width="1.1" stroke-linejoin="miter"/><text transform="translate(267.4,915.5) scale(1.08,1)" font-family="'Liberation Serif', serif" font-weight="normal" stroke="#000" stroke-linejoin="round" stroke-width="0.2" font-size="19">Σ</text><text x="278.7" y="908.2" font-size="12.5" stroke="#000" stroke-width="0.3">+</text><text x="291.7" y="915.5" font-size="18.7" letter-spacing="0.08">X (3.7 mrad)</text>
<text x="212.0" y="961.2" font-size="18.7" letter-spacing="0.3">pBe</text><path d="M249.4,956.7H265.0 M260.8,952.3000000000001L265.6,956.7L260.8,961.1" fill="none" stroke="#000" stroke-width="1.1" stroke-linejoin="miter"/><text transform="translate(267.0,961.2) scale(1.0,1)" font-family="'Liberation Serif', serif" font-weight="normal" stroke="#000" stroke-linejoin="round" stroke-width="0.45" font-size="19">Ξ</text><text x="278.6" y="953.6" font-size="12.5" stroke="#000" stroke-width="0.3">-</text><text x="288.1" y="961.2" font-size="18.7" letter-spacing="0.08">X (2.5 mrad)</text>
<text x="212.0" y="981.0" font-size="18.7" letter-spacing="0.3">pBe</text><path d="M249.4,976.5H265.0 M260.8,972.1L265.6,976.5L260.8,980.9" fill="none" stroke="#000" stroke-width="1.1" stroke-linejoin="miter"/><text transform="translate(267.0,981.0) scale(1.0,1)" font-family="'Liberation Serif', serif" font-weight="normal" stroke="#000" stroke-linejoin="round" stroke-width="0.45" font-size="19">Ξ</text><text x="278.6" y="973.4" font-size="12.5" stroke="#000" stroke-width="0.3">-</text><text x="288.1" y="981.0" font-size="18.7" letter-spacing="0.08">X (2.7 mrad)</text>
<text transform="translate(211.6,939.5) scale(1.08,1)" font-family="'Liberation Serif', serif" font-weight="normal" stroke="#000" stroke-linejoin="round" stroke-width="0.2" font-size="19">Σ</text><text x="223.3" y="930.6" font-size="12.5">-</text>
<text transform="translate(211.6,1005.8) scale(1.03,1)" font-family="'Liberation Serif', serif" font-weight="normal" stroke="#000" stroke-linejoin="round" stroke-width="0.45" font-size="19">Ξ</text><text x="224.0" y="996.9" font-size="12.8">0</text>
</g>
<path d="M125.5,899.6h9.2 M143.5,899.6h9.2 M161.5,899.6h9.4" stroke="#000" stroke-width="1.1" fill="none"/>
<g fill="#000"><circle cx="139.1" cy="899.6" r="0.9"/><circle cx="157.1" cy="899.6" r="0.9"/></g>
<g fill="#f0f"><circle cx="129.90" cy="932.6" r="1.05"/><circle cx="139.03" cy="932.6" r="1.05"/><circle cx="148.16" cy="932.6" r="1.05"/><circle cx="157.29" cy="932.6" r="1.05"/><circle cx="166.42" cy="932.6" r="1.05"/><circle cx="175.55" cy="932.6" r="1.05"/><circle cx="184.68" cy="932.6" r="1.05"/><circle cx="193.81" cy="932.6" r="1.05"/></g>
<path d="M125.5,966.3h9.2 M143.5,966.3h9.2 M161.5,966.3h9.4" stroke="#00f" stroke-width="1.1" fill="none"/>
<path d="M125.5,999.3H197.7" stroke="#f00" stroke-width="1.1" fill="none"/>
<circle cx="188.9" cy="889.1" r="6.0" fill="none" stroke="#000" stroke-width="1.5"/>
<rect x="183.1" y="902.5" width="11.6" height="11.6" fill="#000"/>
<rect x="183.0" y="949.3000000000001" width="11.8" height="11.8" fill="none" stroke="#00f" stroke-width="1.5"/>
<circle cx="188.9" cy="974.1" r="6.1" fill="#00f"/>
</svg></body></html>
